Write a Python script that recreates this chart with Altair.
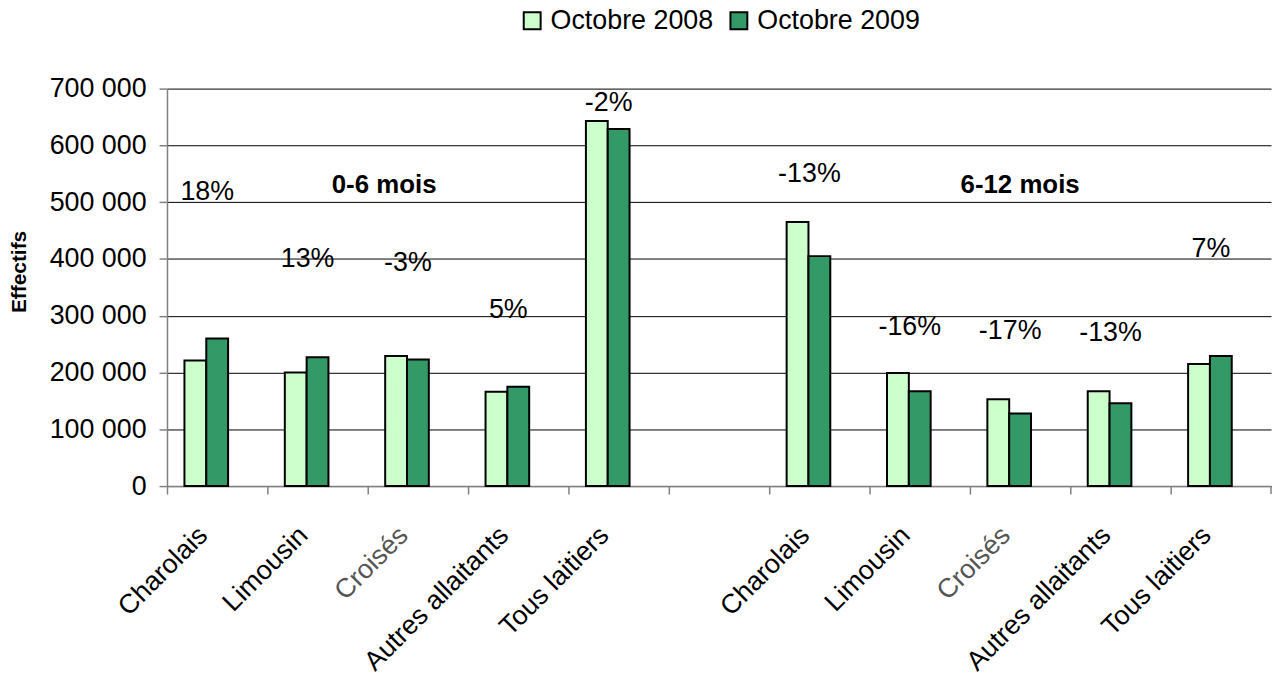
import altair as alt
import pandas as pd

# ---- data ----
breeds = ["Charolais", "Limousin", "Croisés", "Autres allaitants", "Tous laitiers"]
series = ["Octobre 2008", "Octobre 2009"]
colors = ["#CCFFCC", "#339966"]

oct2008_06 = [221000, 200000, 229000, 166000, 643000]
oct2009_06 = [260000, 227000, 223000, 175000, 629000]
oct2008_612 = [465000, 199000, 153000, 167000, 215000]
oct2009_612 = [405000, 167000, 128000, 146000, 229000]

pct_06 = ["18%", "13%", "-3%", "5%", "-2%"]
pct_612 = ["-13%", "-16%", "-17%", "-13%", "7%"]
pct_y_06 = [517000, 400000, 392000, 310000, 674000]
pct_y_612 = [549000, 280000, 273000, 269000, 418000]

group_labels = ["0-6 mois", "6-12 mois"]
group_label_y = [531000, 531000]

y_ticks = [0, 100000, 200000, 300000, 400000, 500000, 600000, 700000]

# ---- category keys (second group made unique with a zero-width space) ----
ZW = "\u200b"
keys06 = list(breeds)
keys612 = [b + ZW for b in breeds]
gap_key = ZW * 3
keys = keys06 + [gap_key] + keys612

rows = []
for k, a, b in zip(keys06, oct2008_06, oct2009_06):
    rows.append({"key": k, "series": series[0], "value": a})
    rows.append({"key": k, "series": series[1], "value": b})
for k, a, b in zip(keys612, oct2008_612, oct2009_612):
    rows.append({"key": k, "series": series[0], "value": a})
    rows.append({"key": k, "series": series[1], "value": b})
bar_df = pd.DataFrame(rows)

pct_df = pd.DataFrame({
    "key": keys06 + keys612,
    "label": pct_06 + pct_612,
    "value": pct_y_06 + pct_y_612,
})

grp06_df = pd.DataFrame({"key": [keys06[2]], "label": [group_labels[0]], "value": [group_label_y[0]]})
grp612_df = pd.DataFrame({"key": [keys612[2]], "label": [group_labels[1]], "value": [group_label_y[1]]})

FONT = "Liberation Sans"

x_enc = alt.X(
    "key:N",
    sort=keys,
    scale=alt.Scale(domain=keys, paddingInner=0, paddingOuter=0),
    axis=alt.Axis(
        title=None,
        bandPosition=0,
        labelAngle=-45,
        labelAlign="right",
        labelBaseline="middle",
        labelFont=FONT,
        labelFontSize=27,
        labelPadding=37,
        labelOffset=-14,
        labelLimit=500,
        labelColor={"condition": {"test": "indexof(datum.value, 'Crois') >= 0", "value": "#555555"}, "value": "#000000"},
        tickSize=8,
        tickColor="#808080",
        tickWidth=1.5,
        domainColor="#808080",
        domainWidth=1.5,
        grid=False,
        labelOverlap=False,
    ),
)

y_enc = alt.Y(
    "value:Q",
    scale=alt.Scale(domain=[0, 700000], nice=False),
    axis=alt.Axis(
        title="Effectifs",
        titleFont=FONT,
        titleFontSize=21,
        titleFontWeight="bold",
        titleX=-148,
        titleY=184,
        titleBaseline="middle",
        values=y_ticks,
        labelExpr="datum.value == 0 ? '0' : floor(datum.value / 1000) + ' 000'",
        labelFont=FONT,
        labelFontSize=27,
        labelPadding=13,
        tickSize=8,
        tickColor="#808080",
        tickWidth=1.5,
        domainColor="#808080",
        domainWidth=1.5,
        grid=True,
        gridColor="#000000",
        gridWidth=1,
    ),
)

bars = alt.Chart(bar_df).mark_bar(stroke="black", strokeWidth=2).encode(
    x=x_enc,
    y=y_enc,
    xOffset=alt.XOffset(
        "series:N",
        scale=alt.Scale(domain=series + ["_"], paddingInner=0, paddingOuter=0.8),
    ),
    color=alt.Color(
        "series:N",
        scale=alt.Scale(domain=series, range=colors),
        legend=alt.Legend(
            title=None,
            orient="none",
            direction="horizontal",
            legendX=354,
            legendY=-82,
            symbolType="square",
            symbolSize=289,
            symbolStrokeColor="black",
            symbolStrokeWidth=2,
            labelFont=FONT,
            labelFontSize=27,
            labelLimit=500,
            labelOffset=5,
            columnPadding=12,
            padding=0,
        ),
    ),
)

pct_text = alt.Chart(pct_df).mark_text(
    font=FONT, fontSize=27, dx=-10, baseline="middle", align="center", color="black"
).encode(x=x_enc, y=y_enc, text="label:N")

grp06_text = alt.Chart(grp06_df).mark_text(
    font=FONT, fontSize=26, fontWeight="bold", dx=-34, baseline="middle", align="center", color="black"
).encode(x=x_enc, y=y_enc, text="label:N")

grp612_text = alt.Chart(grp612_df).mark_text(
    font=FONT, fontSize=26, fontWeight="bold", dx=0, baseline="middle", align="center", color="black"
).encode(x=x_enc, y=y_enc, text="label:N")

end_tick = alt.Chart(pd.DataFrame({"a": [0]})).mark_rule(color="#808080", strokeWidth=1.5).encode(
    x=alt.value(1111), y=alt.value(400), y2=alt.value(408)
)

chart = alt.layer(bars, pct_text, grp06_text, grp612_text, end_tick).properties(
    width=1111,
    height=400,
    padding={"left": 160, "top": 79, "right": 3, "bottom": 192},
    autosize=alt.AutoSizeParams(type="none"),
    background="white",
).configure_view(stroke=None)

chart.save("out.html", embed_options={"renderer": "svg", "actions": False})
